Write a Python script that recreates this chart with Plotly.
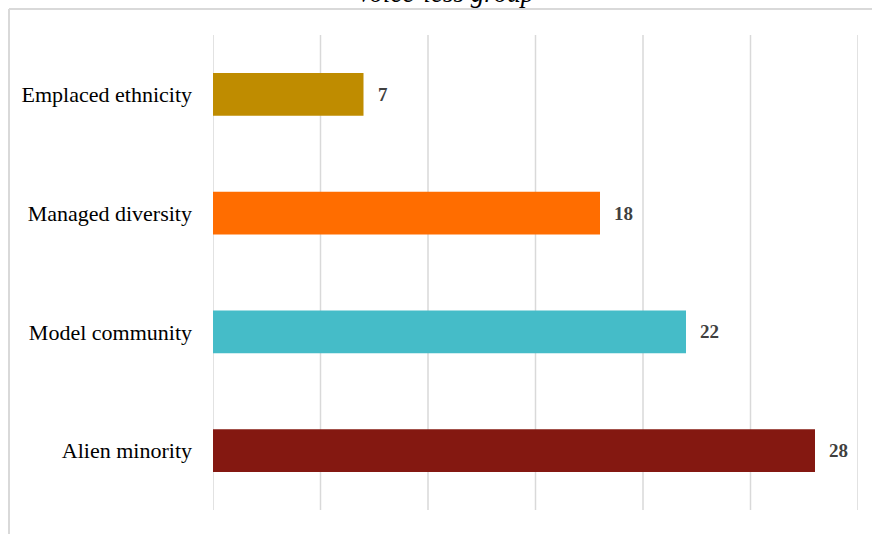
import plotly.graph_objects as go

categories = ["Emplaced ethnicity", "Managed diversity", "Model community", "Alien minority"]
values = [7, 18, 22, 28]
colors = ["#BF8C00", "#FF6D00", "#45BCC8", "#841811"]
title_text = "Voice-less group"
x_min, x_max, x_step = 0, 30, 5

W, H = 872, 534
L, R, T, B = 213, 14, 35, 24
pw, ph = W - L - R, H - T - B

def px_x(p):
    return (p - L) / pw

def px_y(p):
    return (H - B - p) / ph

fig = go.Figure()
fig.add_trace(go.Bar(
    y=categories, x=values, orientation="h",
    marker=dict(color=colors, line=dict(width=0)),
    width=0.36, hoverinfo="skip",
))

annotations = []
for c, v in zip(categories, values):
    annotations.append(dict(
        x=v, y=c, xref="x", yref="y", text=f"<b>{v}</b>", showarrow=False,
        xanchor="left", yanchor="middle", xshift=12,
        font=dict(family="Liberation Serif", size=19, color="#404040"),
    ))
annotations.append(dict(
    x=px_x(445), y=px_y(-7), xref="paper", yref="paper", text=f"<i>{title_text}</i>",
    showarrow=False, xanchor="center", yanchor="middle",
    font=dict(family="Liberation Serif", size=27, color="#000000"),
))

shapes = [
    dict(type="line", xref="paper", yref="paper", x0=px_x(9), x1=px_x(W + 5),
         y0=px_y(9), y1=px_y(9), line=dict(color="#d9d9d9", width=2)),
    dict(type="line", xref="paper", yref="paper", x0=px_x(9), x1=px_x(9),
         y0=px_y(9), y1=px_y(H + 5), line=dict(color="#d9d9d9", width=2)),
]
for gx in range(x_min, x_max + 1, x_step):
    shapes.append(dict(type="line", xref="x", yref="paper", x0=gx, x1=gx, y0=0, y1=1,
                       layer="below", line=dict(color="#d9d9d9", width=1.5)))

fig.update_layout(
    width=W, height=H,
    margin=dict(l=L, r=R, t=T, b=B, pad=0),
    paper_bgcolor="white", plot_bgcolor="white",
    showlegend=False,
    annotations=annotations, shapes=shapes,
    xaxis=dict(range=[x_min, x_max], showgrid=False,
               zeroline=False, showticklabels=False, showline=False, ticks=""),
    yaxis=dict(categoryorder="array", categoryarray=categories[::-1], range=[-0.5, 3.5],
               showgrid=False, zeroline=False, showline=False, ticks="",
               ticklabelstandoff=20,
               tickfont=dict(family="Liberation Serif", size=22, color="#000000")),
)

fig.write_html("out.html")
